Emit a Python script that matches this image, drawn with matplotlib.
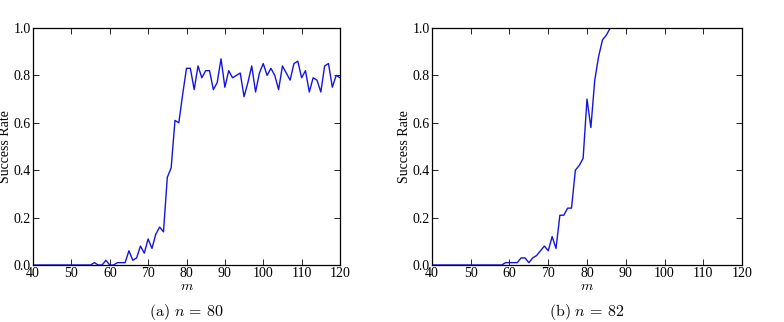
import numpy as np
import matplotlib
matplotlib.use("Agg")
import matplotlib.pyplot as plt

plt.rcParams['font.family'] = ['Liberation Serif', 'DejaVu Serif']
plt.rcParams['mathtext.fontset'] = 'cm'

# m values, success rate for n = 80 (left) and n = 82 (right)
m_a = list(range(40, 121))
rate_a = [0.0] * 16 + [
    0.01, 0.0, 0.0, 0.02, 0.0, 0.0, 0.01, 0.01, 0.01, 0.06,   # 56-65
    0.02, 0.03, 0.08, 0.05, 0.11, 0.07, 0.13, 0.16, 0.14, 0.37,  # 66-75
    0.41, 0.61, 0.60, 0.72, 0.83, 0.83, 0.74, 0.84, 0.79, 0.82,  # 76-85
    0.82, 0.74, 0.77, 0.87, 0.75, 0.82, 0.79, 0.80, 0.81, 0.71,  # 86-95
    0.77, 0.84, 0.73, 0.81, 0.85, 0.80, 0.83, 0.80, 0.74, 0.84,  # 96-105
    0.81, 0.78, 0.85, 0.86, 0.79, 0.82, 0.73, 0.79, 0.78, 0.73,  # 106-115
    0.84, 0.85, 0.75, 0.80, 0.79]                                # 116-120

m_b = list(range(40, 121))
rate_b = [0.0] * 19 + [
    0.01, 0.01, 0.01, 0.01, 0.03, 0.03, 0.01, 0.03, 0.04, 0.06,  # 59-68
    0.08, 0.06, 0.12, 0.07, 0.21, 0.21, 0.24, 0.24, 0.40, 0.42,  # 69-78
    0.45, 0.70, 0.58, 0.78, 0.88, 0.95, 0.97] + [1.0] * 35       # 79-120

captions = [r"$\mathrm{(a)}\ n\,=\,80$", r"$\mathrm{(b)}\ n\,=\,82$"]
xticks = [40, 50, 60, 70, 80, 90, 100, 110, 120]
yticks = [0.0, 0.2, 0.4, 0.6, 0.8, 1.0]

fig = plt.figure(figsize=(7.84, 3.22), dpi=100)
W, H = 784.0, 322.0
boxes = [(33, 28, 340, 265), (432, 28, 742, 265)]

for (x0, y0, x1, y1), mm, rr, cap in zip(boxes, [m_a, m_b], [rate_a, rate_b], captions):
    ax = fig.add_axes([x0 / W, 1 - y1 / H, (x1 - x0) / W, (y1 - y0) / H])
    ax.plot(mm, rr, color='#1414e0', lw=1.0)
    ax.set_xlim(40, 120)
    ax.set_ylim(0, 1.0)
    ax.set_xticks(xticks)
    ax.set_yticks(yticks)
    ax.set_yticklabels(["%.1f" % v for v in yticks])
    ax.tick_params(direction='in', top=True, right=True, length=4, width=0.6,
                   labelsize=10, pad=1.5)
    for s in ax.spines.values():
        s.set_linewidth(0.9)
    ax.set_xlabel(r"$m$", fontsize=10, labelpad=0)
    ax.set_ylabel("Success Rate", fontsize=10, labelpad=1)
    ax.text(0.5, (H - 312) / (y1 - y0) - (H - y1) / (y1 - y0), cap,
            transform=ax.transAxes, ha='center', va='center', fontsize=11.5)

fig.savefig("out.png", dpi=100)
